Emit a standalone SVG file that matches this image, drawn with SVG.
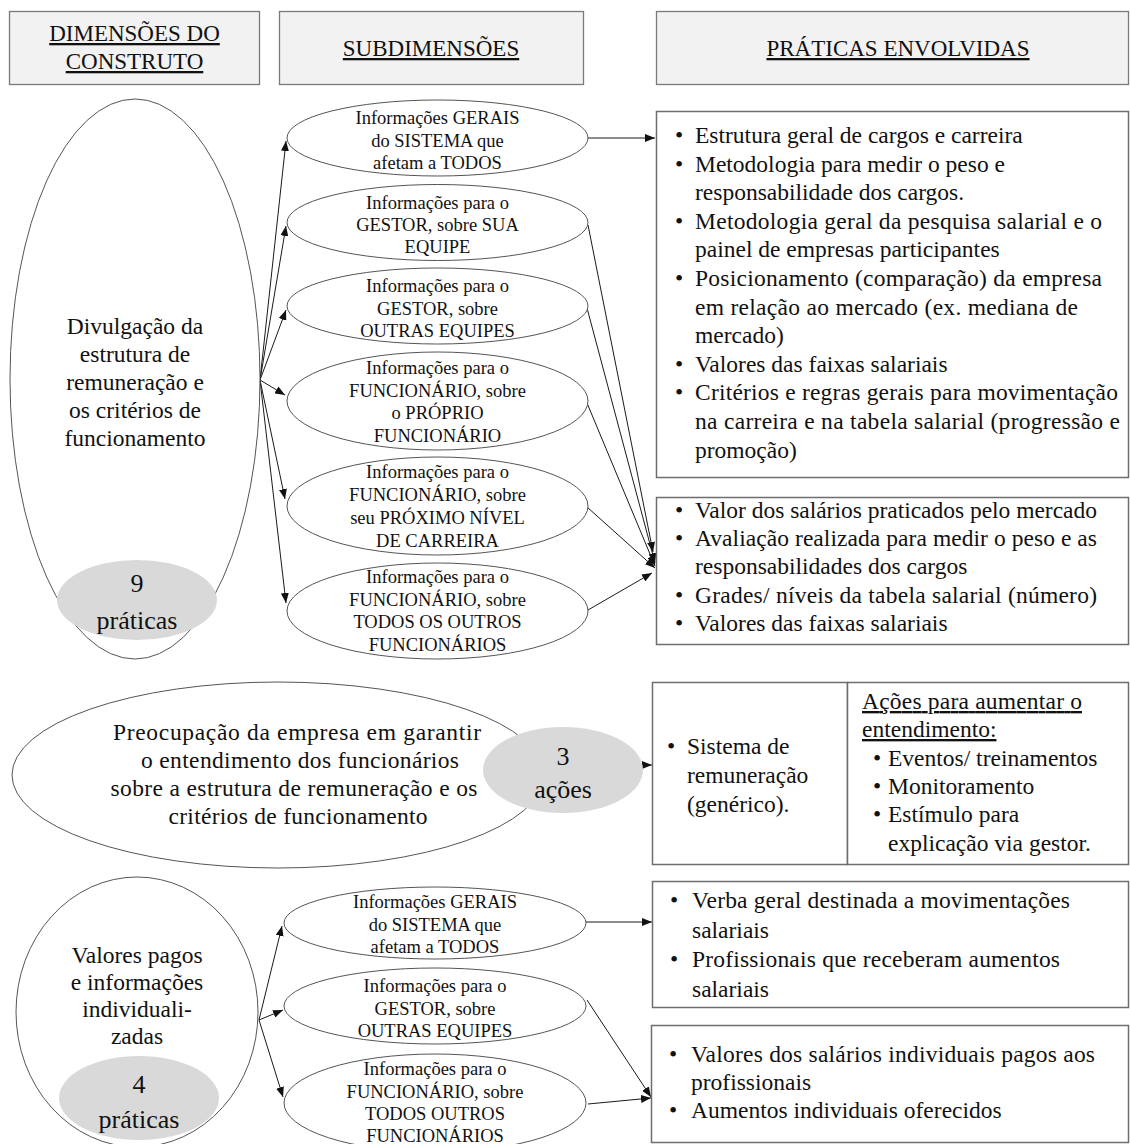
<svg xmlns="http://www.w3.org/2000/svg" width="1130" height="1144" viewBox="0 0 1130 1144">
  <style>
    text { font-family: "Liberation Serif", "Times New Roman", serif; fill: #111; }
    .hdr { fill: #f2f2f2; stroke: #7a7a7a; stroke-width: 1.3; }
    .box { fill: #fff; stroke: #6e6e6e; stroke-width: 1.5; }
    .ell { fill: #fff; stroke: #555; stroke-width: 1; }
    .num { fill: #d9d9d9; stroke: none; }
    .h { font-size: 23px; text-anchor: middle; text-decoration: underline; }
    .s { font-size: 18.5px; text-anchor: middle; }
    .b { font-size: 23.5px; }
    .c { font-size: 23.5px; text-anchor: middle; }
    .n { font-size: 26px; text-anchor: middle; }
    .u { text-decoration: underline; }
    #connectors line { stroke: #1a1a1a; stroke-width: 1; marker-end: url(#ah); }
  </style>
  <defs>
    <marker id="ah" viewBox="0 0 10 8" refX="10" refY="4" markerWidth="10" markerHeight="8" markerUnits="userSpaceOnUse" orient="auto">
      <path d="M0,0 L10,4 L0,8 z" fill="#111"/>
    </marker>
  </defs>

  <rect width="1130" height="1144" fill="#fff"/>

  <!-- column headers -->
  <g id="hdr-dimensoes">
    <rect class="hdr" x="9.5" y="11.5" width="250" height="73"/>
    <text class="h" x="134.5" y="41">DIMENSÕES DO</text>
    <text class="h" x="134.5" y="69">CONSTRUTO</text>
  </g>
  <g id="hdr-subdimensoes">
    <rect class="hdr" x="279.5" y="11.5" width="304" height="73"/>
    <text class="h" x="431" y="56">SUBDIMENSÕES</text>
  </g>
  <g id="hdr-praticas">
    <rect class="hdr" x="656.5" y="11.5" width="472" height="73"/>
    <text class="h" x="898" y="56">PRÁTICAS ENVOLVIDAS</text>
  </g>

  <!-- connectors -->
  <g id="connectors">
    <line x1="260" y1="380" x2="286" y2="141"/>
    <line x1="260" y1="380" x2="286" y2="226"/>
    <line x1="260" y1="380" x2="286" y2="310"/>
    <line x1="260" y1="380" x2="285" y2="395"/>
    <line x1="260" y1="380" x2="285" y2="499"/>
    <line x1="260" y1="380" x2="286" y2="603"/>
    <line x1="588" y1="138" x2="655" y2="138"/>
    <line x1="588" y1="225" x2="653" y2="552"/>
    <line x1="587" y1="308" x2="655" y2="563"/>
    <line x1="587" y1="403" x2="655" y2="566"/>
    <line x1="587" y1="507" x2="655" y2="568"/>
    <line x1="588" y1="610" x2="652" y2="573"/>
    <line x1="642" y1="765" x2="652" y2="765"/>
    <line x1="259" y1="1020" x2="282" y2="926"/>
    <line x1="259" y1="1020" x2="283" y2="1010"/>
    <line x1="259" y1="1020" x2="283" y2="1097"/>
    <line x1="586" y1="922" x2="652" y2="922"/>
    <line x1="587" y1="1000" x2="651" y2="1097"/>
    <line x1="588" y1="1104" x2="651" y2="1098"/>
  </g>

  <!-- dimension 1 -->
  <g id="dim-divulgacao">
    <ellipse class="ell" cx="135" cy="379" rx="125" ry="280"/>
    <text class="c" x="135" y="334">Divulgação da</text>
    <text class="c" x="135" y="362">estrutura de</text>
    <text class="c" x="135" y="390">remuneração e</text>
    <text class="c" x="135" y="418">os critérios de</text>
    <text class="c" x="135" y="446">funcionamento</text>
    <ellipse class="num" cx="137" cy="600" rx="80" ry="40"/>
    <text class="n" x="137" y="592">9</text>
    <text class="n" x="137" y="629">práticas</text>
  </g>

  <!-- subdimensions of dimension 1 -->
  <g id="sub-gerais-1">
    <ellipse class="ell" cx="437.5" cy="138" rx="150.5" ry="38"/>
    <text class="s" x="437.5" y="124">Informações GERAIS</text>
    <text class="s" x="437.5" y="147">do SISTEMA que</text>
    <text class="s" x="437.5" y="169">afetam a TODOS</text>
  </g>
  <g id="sub-gestor-sua">
    <ellipse class="ell" cx="437.5" cy="222.5" rx="150.5" ry="38"/>
    <text class="s" x="437.5" y="209">Informações para o</text>
    <text class="s" x="437.5" y="231">GESTOR, sobre SUA</text>
    <text class="s" x="437.5" y="253">EQUIPE</text>
  </g>
  <g id="sub-gestor-outras-1">
    <ellipse class="ell" cx="437.5" cy="306" rx="150.5" ry="38"/>
    <text class="s" x="437.5" y="292">Informações para o</text>
    <text class="s" x="437.5" y="315">GESTOR, sobre</text>
    <text class="s" x="437.5" y="337">OUTRAS EQUIPES</text>
  </g>
  <g id="sub-func-proprio">
    <ellipse class="ell" cx="437.5" cy="401" rx="150.5" ry="49"/>
    <text class="s" x="437.5" y="374">Informações para o</text>
    <text class="s" x="437.5" y="397">FUNCIONÁRIO, sobre</text>
    <text class="s" x="437.5" y="419">o PRÓPRIO</text>
    <text class="s" x="437.5" y="442">FUNCIONÁRIO</text>
  </g>
  <g id="sub-func-proximo">
    <ellipse class="ell" cx="437.5" cy="506" rx="150.5" ry="49"/>
    <text class="s" x="437.5" y="478">Informações para o</text>
    <text class="s" x="437.5" y="501">FUNCIONÁRIO, sobre</text>
    <text class="s" x="437.5" y="524">seu PRÓXIMO NÍVEL</text>
    <text class="s" x="437.5" y="547">DE CARREIRA</text>
  </g>
  <g id="sub-func-todos-1">
    <ellipse class="ell" cx="437.5" cy="611" rx="150.5" ry="48"/>
    <text class="s" x="437.5" y="583">Informações para o</text>
    <text class="s" x="437.5" y="606">FUNCIONÁRIO, sobre</text>
    <text class="s" x="437.5" y="628">TODOS OS OUTROS</text>
    <text class="s" x="437.5" y="651">FUNCIONÁRIOS</text>
  </g>

  <!-- practices of dimension 1 -->
  <g id="prat-gerais-1">
    <rect class="box" x="656.5" y="111.5" width="472" height="366"/>
    <g class="b">
      <text x="675" y="143">•</text>
      <text x="695" y="143">Estrutura geral de cargos e carreira</text>
      <text x="675" y="171.6">•</text>
      <text x="695" y="171.6">Metodologia para medir o peso e</text>
      <text x="695" y="200.2">responsabilidade dos cargos.</text>
      <text x="675" y="228.8">•</text>
      <text x="695" y="228.8" textLength="407" lengthAdjust="spacing">Metodologia geral da pesquisa salarial e o</text>
      <text x="695" y="257.4">painel de empresas participantes</text>
      <text x="675" y="286">•</text>
      <text x="695" y="286" textLength="407" lengthAdjust="spacing">Posicionamento (comparação) da empresa</text>
      <text x="695" y="314.6" textLength="383" lengthAdjust="spacing">em relação ao mercado (ex. mediana de</text>
      <text x="695" y="343.2">mercado)</text>
      <text x="675" y="371.8">•</text>
      <text x="695" y="371.8">Valores das faixas salariais</text>
      <text x="675" y="400.4">•</text>
      <text x="695" y="400.4" textLength="423" lengthAdjust="spacing">Critérios e regras gerais para movimentação</text>
      <text x="695" y="429" textLength="425" lengthAdjust="spacing">na carreira e na tabela salarial (progressão e</text>
      <text x="695" y="457.6">promoção)</text>
    </g>
  </g>
  <g id="prat-especificas-1">
    <rect class="box" x="656.5" y="497.5" width="472" height="147"/>
    <g class="b">
      <text x="675" y="518">•</text>
      <text x="695" y="518" textLength="402" lengthAdjust="spacing">Valor dos salários praticados pelo mercado</text>
      <text x="675" y="546">•</text>
      <text x="695" y="546" textLength="402" lengthAdjust="spacing">Avaliação realizada para medir o peso e as</text>
      <text x="695" y="574">responsabilidades dos cargos</text>
      <text x="675" y="603">•</text>
      <text x="695" y="603" textLength="402" lengthAdjust="spacing">Grades/ níveis da tabela salarial (número)</text>
      <text x="675" y="631">•</text>
      <text x="695" y="631">Valores das faixas salariais</text>
    </g>
  </g>

  <!-- dimension 2 -->
  <g id="dim-preocupacao">
    <ellipse class="ell" cx="278" cy="775" rx="266" ry="93"/>
    <text class="c" x="297" y="740" textLength="368" lengthAdjust="spacing">Preocupação da empresa em garantir</text>
    <text class="c" x="300" y="768" textLength="318" lengthAdjust="spacing">o entendimento dos funcionários</text>
    <text class="c" x="294" y="796" textLength="367" lengthAdjust="spacing">sobre a estrutura de remuneração e os</text>
    <text class="c" x="298" y="824" textLength="259" lengthAdjust="spacing">critérios de funcionamento</text>
    <ellipse class="num" cx="563" cy="770" rx="80" ry="43"/>
    <text class="n" x="563" y="765">3</text>
    <text class="n" x="563" y="798">ações</text>
  </g>
  <g id="prat-sistema">
    <rect class="box" x="652.5" y="682.5" width="195" height="182"/>
    <g class="b">
      <text x="667" y="754">•</text>
      <text x="687" y="754">Sistema de</text>
      <text x="687" y="783">remuneração</text>
      <text x="687" y="812">(genérico).</text>
    </g>
  </g>
  <g id="prat-acoes">
    <rect class="box" x="847.5" y="682.5" width="281" height="182"/>
    <g class="b">
      <text class="u" x="862" y="709" textLength="220" lengthAdjust="spacing">Ações para aumentar o</text>
      <text class="u" x="862" y="737">entendimento:</text>
      <text x="873" y="766">•</text>
      <text x="888" y="766">Eventos/ treinamentos</text>
      <text x="873" y="794">•</text>
      <text x="888" y="794">Monitoramento</text>
      <text x="873" y="822">•</text>
      <text x="888" y="822">Estímulo para</text>
      <text x="888" y="851">explicação via gestor.</text>
    </g>
  </g>

  <!-- dimension 3 -->
  <g id="dim-valores">
    <ellipse class="ell" cx="137" cy="1012" rx="121" ry="135"/>
    <text class="c" x="137" y="963">Valores pagos</text>
    <text class="c" x="137" y="990">e informações</text>
    <text class="c" x="137" y="1017">individuali-</text>
    <text class="c" x="137" y="1044">zadas</text>
    <ellipse class="num" cx="139" cy="1098" rx="80" ry="42"/>
    <text class="n" x="139" y="1093">4</text>
    <text class="n" x="139" y="1128">práticas</text>
  </g>

  <!-- subdimensions of dimension 3 -->
  <g id="sub-gerais-3">
    <ellipse class="ell" cx="435" cy="923" rx="151" ry="36"/>
    <text class="s" x="435" y="908">Informações GERAIS</text>
    <text class="s" x="435" y="931">do SISTEMA que</text>
    <text class="s" x="435" y="953">afetam a TODOS</text>
  </g>
  <g id="sub-gestor-outras-3">
    <ellipse class="ell" cx="435" cy="1006" rx="151" ry="38"/>
    <text class="s" x="435" y="992">Informações para o</text>
    <text class="s" x="435" y="1015">GESTOR, sobre</text>
    <text class="s" x="435" y="1037">OUTRAS EQUIPES</text>
  </g>
  <g id="sub-func-todos-3">
    <ellipse class="ell" cx="435" cy="1103" rx="151" ry="49"/>
    <text class="s" x="435" y="1075">Informações para o</text>
    <text class="s" x="435" y="1098">FUNCIONÁRIO, sobre</text>
    <text class="s" x="435" y="1120">TODOS OUTROS</text>
    <text class="s" x="435" y="1142">FUNCIONÁRIOS</text>
  </g>

  <!-- practices of dimension 3 -->
  <g id="prat-gerais-3">
    <rect class="box" x="652.5" y="881.5" width="476" height="126"/>
    <g class="b">
      <text x="670" y="908">•</text>
      <text x="692" y="908" textLength="378" lengthAdjust="spacing">Verba geral destinada a movimentações</text>
      <text x="692" y="938">salariais</text>
      <text x="670" y="967">•</text>
      <text x="692" y="967" textLength="368" lengthAdjust="spacing">Profissionais que receberam aumentos</text>
      <text x="692" y="997">salariais</text>
    </g>
  </g>
  <g id="prat-individuais">
    <rect class="box" x="651.5" y="1025.5" width="477" height="117"/>
    <g class="b">
      <text x="669" y="1062">•</text>
      <text x="691" y="1062" textLength="404" lengthAdjust="spacing">Valores dos salários individuais pagos aos</text>
      <text x="691" y="1090">profissionais</text>
      <text x="669" y="1118">•</text>
      <text x="691" y="1118">Aumentos individuais oferecidos</text>
    </g>
  </g>
</svg>
